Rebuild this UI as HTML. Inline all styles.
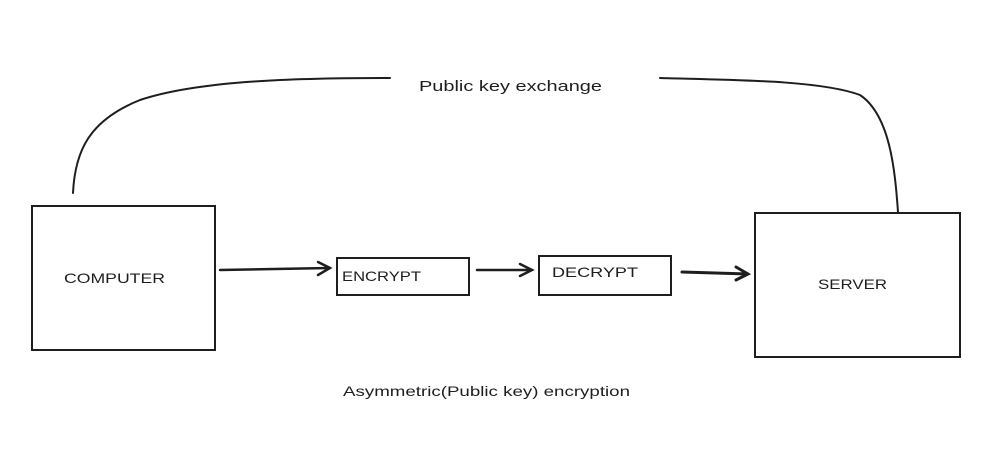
<!DOCTYPE html>
<html><head><meta charset="utf-8"><style>
html,body{margin:0;padding:0;background:#fff;}
svg{display:block}
text{font-family:"Liberation Sans",sans-serif;fill:#1e1e1e;}
</style></head><body>
<svg width="1004" height="469" viewBox="0 0 1004 469" xmlns="http://www.w3.org/2000/svg">
<g fill="none" stroke="#1e1e1e" stroke-width="2" stroke-linecap="round">
<rect x="32" y="206" width="183" height="144"/>
<rect x="337" y="258" width="132" height="37"/>
<rect x="539" y="256" width="132" height="39"/>
<rect x="755" y="213" width="205" height="144"/>
<path d="M73 193 C75 150 90 120 140 100 C200 80 300 78 390 78"/>
<path d="M660 78 C730 80 820 80 860 95 C890 115 895 170 898 212"/>
<path d="M220 270 L330 268 M318 262 L330 268 L318 275" stroke-width="2.5"/>
<path d="M477 270 L532 270 M520 264 L532 270 L520 276" stroke-width="2.5"/>
<path d="M682 272 L748 274 M736 267 L748 274 L736 280" stroke-width="3"/>
</g>
<g font-size="14">
<text x="64" y="283" textLength="101" lengthAdjust="spacingAndGlyphs">COMPUTER</text>
<text x="342" y="281" textLength="79" lengthAdjust="spacingAndGlyphs">ENCRYPT</text>
<text x="552" y="277" textLength="86" lengthAdjust="spacingAndGlyphs">DECRYPT</text>
<text x="818" y="289" textLength="69" lengthAdjust="spacingAndGlyphs">SERVER</text>
<text x="419" y="91" font-size="15" textLength="183" lengthAdjust="spacingAndGlyphs">Public key exchange</text>
<text x="343" y="396" font-size="14" textLength="287" lengthAdjust="spacingAndGlyphs">Asymmetric(Public key) encryption</text>
</g>
</svg>
</body></html>
